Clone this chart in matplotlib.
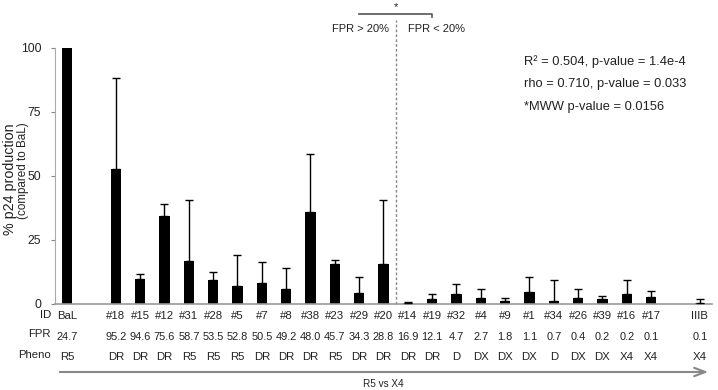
import matplotlib
matplotlib.use("Agg")
import matplotlib.pyplot as plt
from matplotlib.transforms import blended_transform_factory

plt.rcParams['font.family'] = ['Liberation Sans', 'DejaVu Sans']

ids = ["BaL", "#18", "#15", "#12", "#31", "#28", "#5", "#7", "#8", "#38", "#23", "#29", "#20",
       "#14", "#19", "#32", "#4", "#9", "#1", "#34", "#26", "#39", "#16", "#17", "IIIB"]
fpr = ["24.7", "95.2", "94.6", "75.6", "58.7", "53.5", "52.8", "50.5", "49.2", "48.0", "45.7", "34.3", "28.8",
       "16.9", "12.1", "4.7", "2.7", "1.8", "1.1", "0.7", "0.4", "0.2", "0.2", "0.1", "0.1"]
pheno = ["R5", "DR", "DR", "DR", "R5", "R5", "R5", "DR", "DR", "DR", "R5", "DR", "DR",
         "DR", "DR", "D", "DX", "DX", "DX", "D", "DX", "DX", "X4", "X4", "X4"]
values = [100, 52.6, 9.6, 34.3, 16.9, 9.4, 6.9, 8.3, 5.7, 35.9, 15.6, 4.4, 15.6,
          0.5, 1.8, 4.0, 2.3, 1.0, 4.5, 1.2, 2.5, 1.9, 3.9, 2.7, 0.2]
err_top = [100, 88.4, 11.6, 39.2, 40.5, 12.6, 19.0, 16.6, 14.2, 58.7, 17.2, 10.4, 40.8,
           0.9, 4.0, 7.7, 5.7, 2.5, 10.4, 9.2, 5.7, 3.0, 9.4, 5.2, 1.8]
positions = [0] + list(range(2, 25)) + [26]

TXT = '#222222'
W, H = 718, 390
fig = plt.figure(figsize=(W / 100, H / 100), dpi=100)
ax = fig.add_axes([55 / W, (H - 304) / H, (712 - 55) / W, 256 / H])

errs = [max(t - v, 0) for t, v in zip(err_top, values)]
ax.bar(positions, values, width=0.42, color='black', zorder=2)
ax.errorbar(positions, values, yerr=[[0] * len(values), errs], fmt='none',
            ecolor='black', elinewidth=1, capsize=3, capthick=1, zorder=3)

ax.set_xlim(-0.5, 26.5)
ax.set_ylim(0, 100)
ax.set_yticks([0, 25, 50, 75, 100])
ax.tick_params(axis='y', direction='out', length=3, color='#888888', labelsize=8.7,
               labelcolor=TXT, pad=7)
ax.set_xticks([])
for s in ['top', 'right']:
    ax.spines[s].set_visible(False)
ax.spines['left'].set_color('#aaaaaa')
ax.spines['bottom'].set_color('#999999')
ax.spines['bottom'].set_linewidth(1.2)

# y label
fig.text(10 / W, 1 - 179 / H, "% p24 production", rotation=90, ha='center', va='center',
         fontsize=10.3, color=TXT)
fig.text(23 / W, 1 - 171 / H, "(compared to BaL)", rotation=90, ha='center', va='center',
         fontsize=8.4, color=TXT)

tr = blended_transform_factory(ax.transData, ax.transAxes)
def fy(py):
    return (304 - py) / 256.0

# table rows
for p, i, f, ph in zip(positions, ids, fpr, pheno):
    ax.text(p, fy(316), i, transform=tr, ha='center', va='center', fontsize=8.2, color=TXT)
    ax.text(p, fy(337), f, transform=tr, ha='center', va='center', fontsize=7.9, color=TXT)
    ax.text(p, fy(357), ph, transform=tr, ha='center', va='center', fontsize=8.2, color=TXT)
for lab, py in [("ID", 315), ("FPR", 334), ("Pheno", 355)]:
    fig.text(51 / W, 1 - py / H, lab, ha='right', va='center', fontsize=8.2, color=TXT)

# arrow
ax.annotate("", xy=(711 / W, 1 - 372 / H), xytext=(57 / W, 1 - 372 / H),
            xycoords='figure fraction', textcoords='figure fraction',
            arrowprops=dict(arrowstyle='->,head_length=0.8,head_width=0.3', color='#888888', lw=1.5))
fig.text(383 / W, 1 - 384 / H, "R5 vs X4", ha='center', va='center', fontsize=7.2, color=TXT)

# dashed separator
ax.plot([13.5, 13.5], [0, fy(20)], transform=tr, ls=(0, (2, 1.5)), color='#888888', lw=1,
        clip_on=False)

# bracket
ax.plot([12, 12, 15, 15], [fy(14), fy(14), fy(14), fy(17)], transform=tr, color='#555555',
        lw=1.2, clip_on=False)
ax.text(13.5, fy(7), "*", transform=tr, ha='center', va='center', fontsize=8, color=TXT)
ax.text(361 / W, 1 - 29 / H, "FPR > 20%", transform=fig.transFigure, ha='center', va='center',
        fontsize=8, color=TXT)
ax.text(436 / W, 1 - 29 / H, "FPR < 20%", transform=fig.transFigure, ha='center', va='center',
        fontsize=8, color=TXT)

# stats
fig.text(524 / W, 1 - 62 / H, "R² = 0.504, p-value = 1.4e-4", ha='left', va='center',
         fontsize=9.3, color=TXT)
fig.text(524 / W, 1 - 84 / H, "rho = 0.710, p-value = 0.033", ha='left', va='center',
         fontsize=9.3, color=TXT)
fig.text(524 / W, 1 - 107 / H, "*MWW p-value = 0.0156", ha='left', va='center',
         fontsize=9.3, color=TXT)

fig.savefig("out.png", dpi=100)
